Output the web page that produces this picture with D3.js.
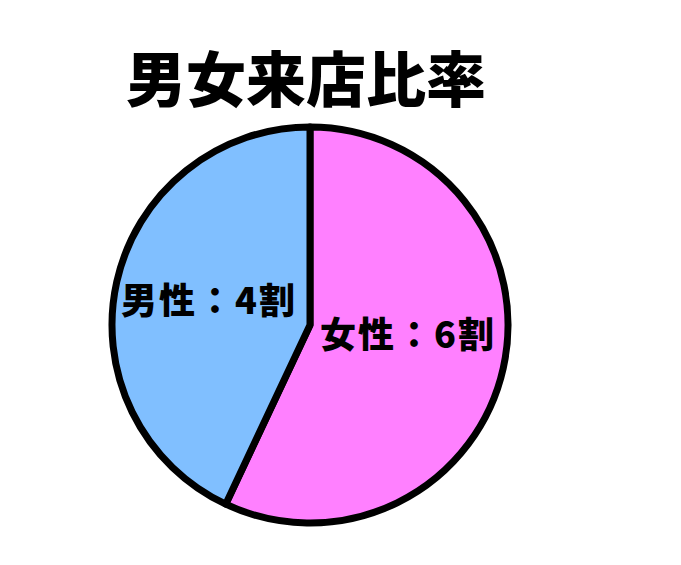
<!DOCTYPE html>
<html><head><meta charset="utf-8">
<script src="https://cdn.jsdelivr.net/npm/d3@7"></script>
<style>html,body{margin:0;padding:0;background:#fff;}</style>
</head><body>
<svg id="c" width="681" height="565"></svg>
<script>
const title = "男女来店比率";
const categories = ["女性", "男性"];
const values = [57, 43];
const labels = ["女性：6割", "男性：4割"];
const colors = ["#FF80FF", "#80BFFF"];

const svg = d3.select("#c");
const cx = 310, cy = 325, r = 198;
svg.append("text").attr("x", 306).attr("y", 102).attr("text-anchor", "middle")
  .attr("font-family", "'Noto Sans CJK JP'").attr("font-weight", 900)
  .attr("font-size", 60).attr("fill", "#000").text(title);

const pie = d3.pie().sort(null).value(d => d)(values);
const arc = d3.arc().innerRadius(0).outerRadius(r);
const g = svg.append("g").attr("transform", `translate(${cx},${cy})`);
g.selectAll("path").data(pie).join("path")
  .attr("d", arc).attr("fill", (d, i) => colors[i])
  .attr("stroke", "#000").attr("stroke-width", 7).attr("stroke-linejoin", "round");

const labelPos = [[408, 332], [209, 298]];
g.selectAll("text").data(labels).join("text")
  .attr("x", (d, i) => labelPos[i][0] - cx).attr("y", (d, i) => labelPos[i][1] - cy)
  .attr("text-anchor", "middle").attr("dominant-baseline", "central")
  .attr("font-family", "'Noto Sans CJK JP'").attr("font-weight", 900)
  .attr("font-size", 36).attr("letter-spacing", 2).attr("fill", "#000").text(d => d);
</script>
</body></html>
